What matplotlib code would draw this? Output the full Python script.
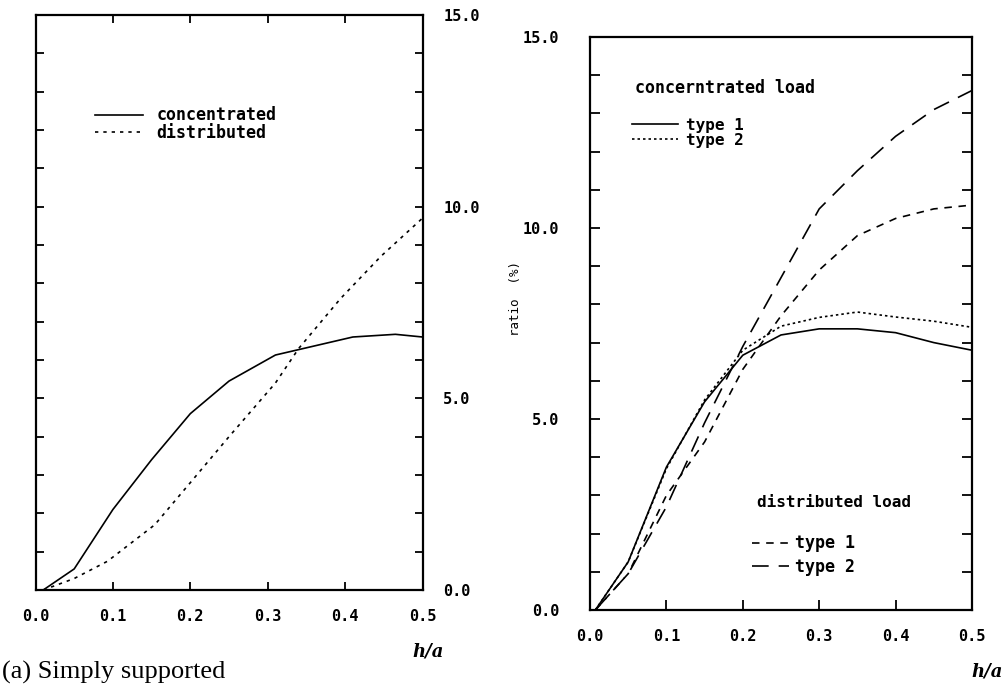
import matplotlib
matplotlib.use("Agg")
import matplotlib.pyplot as plt
from matplotlib.ticker import MultipleLocator

# ---- data (left panel) ----
x_conc_l = [0.0, 0.01, 0.05, 0.10, 0.15, 0.20, 0.25, 0.31, 0.41, 0.465, 0.50]
y_conc_l = [0.0, 0.0, 0.55, 2.1, 3.4, 4.6, 5.45, 6.13, 6.6, 6.67, 6.6]
x_dist_l = [0.01, 0.05, 0.093, 0.154, 0.20, 0.25, 0.31, 0.34, 0.394, 0.446, 0.50]
y_dist_l = [0.0, 0.3, 0.75, 1.7, 2.8, 4.0, 5.4, 6.3, 7.6, 8.7, 9.7]

# ---- data (right panel) ----
x_r = [0.007, 0.05, 0.10, 0.15, 0.20, 0.25, 0.30, 0.35, 0.40, 0.45, 0.50]
y_conc_t1 = [0.0, 1.26, 3.74, 5.45, 6.67, 7.2, 7.36, 7.36, 7.26, 7.0, 6.8]
y_conc_t2 = [0.0, 1.26, 3.7, 5.5, 6.8, 7.43, 7.66, 7.8, 7.67, 7.56, 7.4]
y_dist_t1 = [0.0, 0.95, 3.0, 4.4, 6.3, 7.7, 8.9, 9.8, 10.25, 10.5, 10.6]
y_dist_t2 = [0.0, 0.95, 2.7, 4.9, 6.9, 8.7, 10.5, 11.5, 12.4, 13.1, 13.6]

xticks = [0.0, 0.1, 0.2, 0.3, 0.4, 0.5]
xtick_labels = ["0.0", "0.1", "0.2", "0.3", "0.4", "0.5"]
yticks = [0.0, 5.0, 10.0, 15.0]
ytick_labels = ["0.0", "5.0", "10.0", "15.0"]

FONT = "DejaVu Sans Mono"
plt.rcParams["font.family"] = FONT
plt.rcParams["font.weight"] = "bold"

W, H = 1007, 684
fig = plt.figure(figsize=(W / 100, H / 100), dpi=100)

def box(l, r, t, b):
    return [l / W, 1 - b / H, (r - l) / W, (b - t) / H]

axL = fig.add_axes(box(35.5, 422.5, 15, 590))
axR = fig.add_axes(box(590, 972, 37, 610))

lw = 1.2
# left
axL.plot(x_conc_l, y_conc_l, color="black", lw=lw, ls="-", label="concentrated")
axL.plot(x_dist_l, y_dist_l, color="black", lw=lw, ls=(0, (2, 3)), label="distributed")

# right
l1, = axR.plot(x_r, y_conc_t1, color="black", lw=lw, ls="-", label="type 1")
l2, = axR.plot(x_r, y_conc_t2, color="black", lw=lw, ls=(0, (1.5, 1.8)), label="type 2")
l3, = axR.plot(x_r, y_dist_t1, color="black", lw=lw, ls=(0, (4.5, 4)), label="type 1")
l4, = axR.plot(x_r, y_dist_t2, color="black", lw=lw, ls=(0, (10, 6)), label="type 2")

for ax in (axL, axR):
    ax.set_xlim(0, 0.5)
    ax.set_ylim(0, 15)
    ax.set_xticks(xticks)
    ax.set_xticklabels(xtick_labels)
    ax.set_yticks(yticks)
    ax.set_yticklabels(ytick_labels)
    ax.yaxis.set_minor_locator(MultipleLocator(1.0))
    for s in ax.spines.values():
        s.set_linewidth(1.6)
    ax.tick_params(axis="both", which="both", direction="in", labelsize=11,
                   width=1.3, length=6)
    ax.tick_params(axis="x", pad=14)
    for lab in ax.get_xticklabels() + ax.get_yticklabels():
        lab.set_fontweight("bold")

# left panel: y labels on the right, ticks on both sides, top ticks
axL.tick_params(axis="y", which="both", left=True, right=True,
                labelleft=False, labelright=True, pad=15)
axL.tick_params(axis="x", top=True, bottom=True)

# right panel: y labels on the left, ticks both sides, no top ticks
axR.tick_params(axis="y", which="both", left=True, right=True,
                labelleft=True, labelright=False, pad=22, length=7)
axR.tick_params(axis="x", top=False, bottom=True, length=7)

# legends
legL = axL.legend(loc="center left", bbox_to_anchor=((95 - 35.5) / 387, 1 - (124 - 15) / 575),
                  frameon=False, handlelength=2.9, handletextpad=0.8, labelspacing=-0.05,
                  borderaxespad=0, borderpad=0,
                  prop={"family": FONT, "weight": "bold", "size": 12})

axR.text((635 - 590) / 382, 1 - (88 - 37) / 573, "concerntrated load",
         transform=axR.transAxes, fontsize=12, fontweight="bold",
         ha="left", va="center")
leg1 = axR.legend(handles=[l1, l2], loc="center left",
                  bbox_to_anchor=((632 - 590) / 382, 1 - (133 - 37) / 573),
                  frameon=False, handlelength=2.9, handletextpad=0.5,
                  labelspacing=0.0, borderaxespad=0, borderpad=0,
                  prop={"family": FONT, "weight": "bold", "size": 11.5})
axR.add_artist(leg1)
axR.text((757 - 590) / 382, 1 - (502 - 37) / 573, "distributed load",
         transform=axR.transAxes, fontsize=11.5, fontweight="bold",
         ha="left", va="center")
leg2 = axR.legend(handles=[l3, l4], loc="center left",
                  bbox_to_anchor=((752 - 590) / 382, 1 - (555 - 37) / 573),
                  frameon=False, handlelength=2.2, handletextpad=0.4,
                  labelspacing=0.3, borderaxespad=0, borderpad=0,
                  prop={"family": FONT, "weight": "bold", "size": 12})

# axis labels
fig.text(428 / W, 1 - 652 / H, "h/a", fontsize=13, fontstyle="italic",
         fontweight="bold", ha="center", va="center", family="DejaVu Serif")
fig.text(987 / W, 1 - 672 / H, "h/a", fontsize=13, fontstyle="italic",
         fontweight="bold", ha="center", va="center", family="DejaVu Serif")
fig.text(515 / W, 1 - 299 / H, "ratio  (%)", rotation=90, fontsize=9,
         ha="center", va="center", fontweight="normal")

# caption at the bottom edge
fig.text(2 / W, 1 - 679 / H, "(a) Simply supported", fontsize=19,
         family="Liberation Serif", fontweight="normal", ha="left", va="baseline")

fig.savefig("out.png", dpi=100)
